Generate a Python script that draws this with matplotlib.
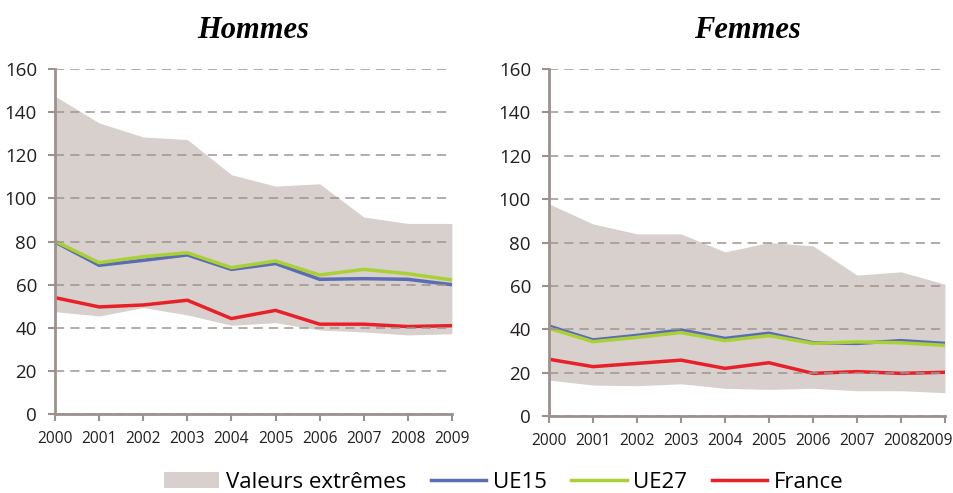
import matplotlib
matplotlib.use("Agg")
import matplotlib.pyplot as plt
import matplotlib.transforms as mtransforms
import numpy as np

years = list(range(2000, 2010))

# Hommes
h_max = [147.4, 135, 128.5, 127.3, 111, 105.7, 106.8, 91.4, 88.4, 88.4]
h_min = [47.5, 45.5, 49.4, 46, 41.2, 42.4, 39, 38.1, 36.7, 37.3]
h_ue15 = [79.8, 69, 71.3, 73.8, 67.1, 69.8, 62.5, 62.8, 62.5, 60]
h_ue27 = [80.2, 70.2, 73, 74.8, 67.9, 71, 64.5, 67.1, 65.1, 62.2]
h_fr = [54, 49.7, 50.6, 52.8, 44.3, 48.1, 41.7, 41.7, 40.6, 41]

# Femmes
f_max = [97.8, 88.6, 84, 84, 75.7, 80, 78.5, 65, 66.5, 60.8]
f_min = [16.6, 14.3, 14, 14.9, 12.8, 12.3, 12.8, 11.7, 11.7, 10.8]
f_ue15 = [41.5, 35.1, 37.2, 39.7, 35.8, 38.2, 33.8, 33.5, 34.8, 33.5]
f_ue27 = [40.5, 34.3, 36.3, 38.5, 34.8, 37.1, 33.5, 34.2, 33.8, 32.6]
f_fr = [26.2, 22.8, 24.3, 25.8, 22, 24.6, 19.7, 20.5, 19.7, 20.2]

plt.rcParams['font.family'] = ['Open Sans', 'DejaVu Sans']

c_fill = '#d7d0cd'
c_ue15 = '#5a6cb4'
c_ue27 = '#abd035'
c_fr = '#e8202a'
c_axis = '#9c918e'

fig = plt.figure(figsize=(9.54, 4.93), dpi=100)
ax1 = fig.add_axes([0.0577, 0.160, 0.416, 0.700])
ax2 = fig.add_axes([0.5755, 0.156, 0.415, 0.704])


def draw(ax, title, lo, hi, ue15, ue27, fr):
    ax.fill_between(years, lo, hi, color=c_fill, lw=0, label='Valeurs extrêmes')
    ax.plot(years, ue15, color=c_ue15, lw=2.5, label='UE15')
    ax.plot(years, ue27, color=c_ue27, lw=2.5, label='UE27')
    ax.plot(years, fr, color=c_fr, lw=2.5, label='France')
    ax.set_xlim(2000, 2009)
    ax.set_ylim(0, 160)
    ax.set_yticks(range(0, 161, 20))
    ax.set_xticks(years)
    ax.grid(axis='y', color='#a0938f', ls=(0, (6, 4)), lw=1.1)
    ax.set_axisbelow(False)
    for s in ['top', 'right']:
        ax.spines[s].set_visible(False)
    for s in ['left', 'bottom']:
        ax.spines[s].set_color(c_axis)
        ax.spines[s].set_linewidth(2)
    ax.tick_params(axis='x', colors=c_axis, length=5, width=1.5, labelcolor='#231f20',
                   labelsize=11.2, pad=7)
    ax.tick_params(axis='y', colors=c_axis, length=5, width=1.5, labelcolor='#231f20',
                   labelsize=13.5, pad=8)
    ax.set_title(title, fontsize=22, fontweight='bold', style='italic',
                 family='Liberation Serif', pad=22)


draw(ax1, 'Hommes', h_min, h_max, h_ue15, h_ue27, h_fr)
draw(ax2, 'Femmes', f_min, f_max, f_ue15, f_ue27, f_fr)

# the last year label on the right panel is nudged left to stay inside the figure
lab = ax2.get_xticklabels()[-1]
lab.set_transform(lab.get_transform() +
                  mtransforms.ScaledTranslation(-10 / 100, 0, fig.dpi_scale_trans))

handles, labels = ax1.get_legend_handles_labels()
fig.legend(handles, labels, loc='lower center', bbox_to_anchor=(0.528, -0.04), ncol=4,
           frameon=False, fontsize=16, handlelength=2.5, columnspacing=1.1,
           handletextpad=0.3)

fig.savefig('out.png', dpi=100)
